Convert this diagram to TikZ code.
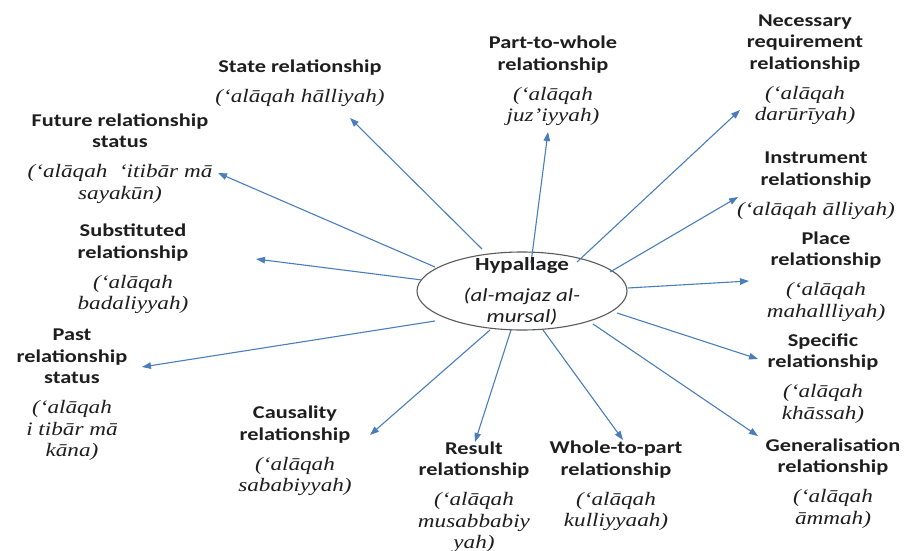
\documentclass[tikz,border=0pt]{standalone}
\usepackage{fontspec}
\setmainfont{Carlito}[FakeStretch=1.24]
\newfontfamily\itf{Liberation Serif}[FakeStretch=1.22]
\usetikzlibrary{shapes.geometric,calc,arrows.meta}
\definecolor{arrblue}{HTML}{4A7EBB}
\definecolor{ellgray}{HTML}{5A5A5A}
\definecolor{txt}{HTML}{1E1E1E}
\newcommand{\tr}[1]{{\itf\mdseries\itshape\fontsize{19}{21.5}\selectfont #1}}
\begin{document}
\begin{tikzpicture}[x=1pt,y=-1pt,
  lbl/.style={align=center,inner sep=0pt,text=txt,font=\fontsize{18}{21.5}\selectfont\bfseries},
  arr/.style={draw=arrblue,line width=1.1pt,-{Triangle[length=9pt,width=6.5pt]}}]
\useasboundingbox[fill=white] (0,0) rectangle (906,551);

% centre
\node[ellipse, draw=ellgray, line width=1.1pt, minimum width=210pt, minimum height=78pt, inner sep=0pt] (hyp) at (522,291) {};

% labels
\node[lbl] (state) at (300,83) {State relationship\\[8.5pt]\tr{(‘alāqah hālliyah)}};
\node[lbl] (future) at (120,158.5) {Future relationship\\status\\[8.5pt]\tr{(‘alāqah\ \ ‘itibār mā}\\\tr{sayakūn)}};
\node[lbl] (subst) at (133,269) {Substituted\\relationship\\[8.5pt]\tr{(‘alāqah}\\\tr{badaliyyah)}};
\node[lbl] (past) at (72,395) {Past\\relationship\\status\\[8.5pt]\tr{(‘alāqah}\\\tr{i tibār mā}\\\tr{kāna)}};
\node[lbl] (caus) at (295,451) {Causality\\relationship\\[8.5pt]\tr{(‘alāqah}\\\tr{sababiyyah)}};
\node[lbl] (result) at (474,497) {Result\\relationship\\[8.5pt]\tr{(‘alāqah}\\\tr{musabbabiy}\\\tr{yah)}};
\node[lbl] (whole) at (616,486) {Whole-to-part\\relationship\\[8.5pt]\tr{(‘alāqah}\\\tr{kulliyyaah)}};
\node[lbl] (gen) at (833,483.5) {Generalisation\\relationship\\[8.5pt]\tr{(‘alāqah}\\\tr{āmmah)}};
\node[lbl] (spec) at (823,378.5) {Specific\\relationship\\[8.5pt]\tr{(‘alāqah}\\\tr{khāssah)}};
\node[lbl] (place) at (826,276.5) {Place\\relationship\\[8.5pt]\tr{(‘alāqah}\\\tr{mahallliyah)}};
\node[lbl] (instr) at (816,185.5) {Instrument\\relationship\\[8.5pt]\tr{(‘alāqah ālliyah)}};
\node[lbl] (nec) at (805,69.5) {Necessary\\requirement\\relationship\\[8.5pt]\tr{(‘alāqah}\\\tr{darūrīyah)}};
\node[lbl] (part) at (553,81) {Part-to-whole\\relationship\\[8.5pt]\tr{(‘alāqah}\\\tr{juz’iyyah)}};

% arrow tips
\coordinate (tState) at (350,118);
\coordinate (tFuture) at (218,173);
\coordinate (tSubst) at (256,259);
\coordinate (tPast) at (142,367);
\coordinate (tCaus) at (370,435);
\coordinate (tResult) at (475,442);
\coordinate (tWhole) at (623,440);
\coordinate (tGen) at (758,436);
\coordinate (tSpec) at (758,359);
\coordinate (tPlace) at (749,281);
\coordinate (tInstr) at (738,197);
\coordinate (tNec) at (740,110);
\coordinate (tPart) at (548,132);

% arrows
\draw[arr] ($(hyp)+(-40,-42)$) -- (tState);
\draw[arr] ($(hyp)+(9,-28)$) -- (tPart);
\draw[arr] ($(hyp)+(55,-29)$) -- (tNec);
\draw[arr] ($(hyp)+(88,-19)$) -- (tInstr);
\draw[arr] ($(hyp)+(106,-3)$) -- (tPlace);
\draw[arr] ($(hyp)+(95,22)$) -- (tSpec);
\draw[arr] ($(hyp)+(71,33)$) -- (tGen);
\draw[arr] ($(hyp)+(21,39)$) -- (tWhole);
\draw[arr] ($(hyp)+(-11,39)$) -- (tResult);
\draw[arr] ($(hyp)+(-32,39)$) -- (tCaus);
\draw[arr] ($(hyp)+(-87,30)$) -- (tPast);
\draw[arr] ($(hyp)+(-100,-11)$) -- (tSubst);
\draw[arr] ($(hyp)+(-87,-24)$) -- (tFuture);

% centre text
\node[align=center, inner sep=0pt, text=txt, font=\fontsize{18.5}{21}\selectfont] (hyptext) at (522,291)
  {\textbf{Hypallage}\\[10pt]\textit{(al-majaz al-}\\\textit{mursal)}};
\end{tikzpicture}
\end{document}
